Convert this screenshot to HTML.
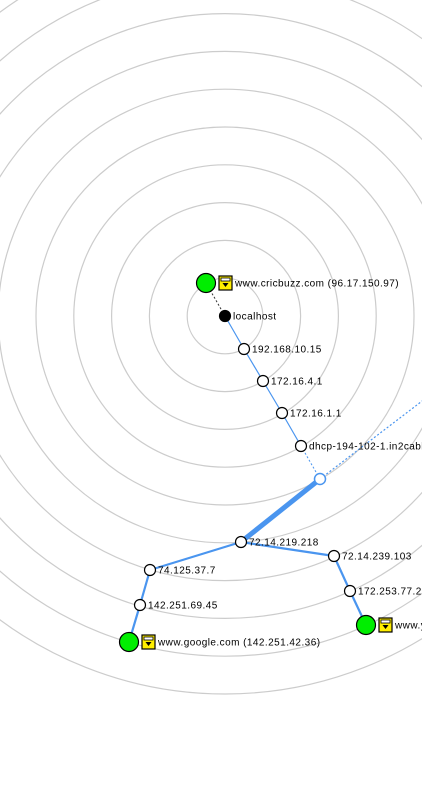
<!DOCTYPE html>
<html><head><meta charset="utf-8"><style>
html,body{margin:0;padding:0;background:#fff;overflow:hidden}
svg{display:block;font-family:"Liberation Sans",sans-serif}
</style></head><body>
<svg id="chart" width="422" height="791" viewBox="0 0 422 791">
<g id="rings"></g><g id="links"></g><g id="nodes"></g>
</svg>
<script>
const ringCount = 10;
const ringStep = 37.8;
const nodeNames = ["localhost","192.168.10.15","172.16.4.1","172.16.1.1","dhcp-194-102-1.in2cabl","hub","72.14.219.218","74.125.37.7","142.251.69.45","www.google.com (142.251.42.36)","72.14.239.103","172.253.77.2","www.youtube.com","www.cricbuzz.com (96.17.150.97)"];
const nodeX = [225,244,263,282,301,320,241,150,140,129,334,350,366,206];
const nodeY = [316,349,381,413,446,479,542,570,605,642,556,591,625,283];
const nodeKind = ["local","hop","hop","hop","hop","hub","hop","hop","hop","dest","hop","hop","dest","dest"];
const linkFrom = [0,1,2,3,4,5,6,7,8,6,10,11,0];
const linkTo   = [1,2,3,4,5,6,7,8,9,10,11,12,13];
const linkWidth= [1.2,1.2,1.2,1.2,1,5,2.2,2.2,2.2,2.2,2.2,2.2,1];
const linkStyle= ["solid","solid","solid","solid","dot","solid","solid","solid","solid","solid","solid","solid","dotblack"];
const ns="http://www.w3.org/2000/svg";
const cx=nodeX[0], cy=nodeY[0];
function mk(t,a,p){const e=document.createElementNS(ns,t);for(const k in a)e.setAttribute(k,a[k]);p.appendChild(e);return e;}
const R=document.getElementById('rings'),L=document.getElementById('links'),N=document.getElementById('nodes');
for(let i=1;i<=ringCount;i++){
  const c=mk('circle',{cx:cx,cy:cy,r:i*ringStep,fill:'none',stroke:'#cccccc','stroke-width':1.2},R);
  
  
}
const off=mk('line',{x1:nodeX[5],y1:nodeY[5],x2:430,y2:395,stroke:'#4a95ef','stroke-width':1.2,'stroke-dasharray':'2,2'},L);


for(let i=0;i<linkFrom.length;i++){
  const a=linkFrom[i],b=linkTo[i];
  const s=linkStyle[i];
  const attrs={x1:nodeX[a],y1:nodeY[a],x2:nodeX[b],y2:nodeY[b],stroke:s==='dotblack'?'#333':'#4a95ef','stroke-width':linkWidth[i]};
  if(s!=='solid')attrs['stroke-dasharray']='2,2';
  const l=mk('line',attrs,L);
  
  
}
function lock(x,y){
  const g=mk('g',{},N);
  
  
  mk('rect',{x:x,y:y-7,width:13,height:14,fill:'#ffee00',stroke:'#000','stroke-width':1.2},g);
  mk('rect',{x:x+2,y:y-5,width:9,height:3,fill:'#fff',stroke:'#000','stroke-width':0.8},g);
  mk('path',{d:`M${x+3.5} ${y} h6 l-3 4 z`,fill:'#000'},g);
}
for(let i=0;i<nodeNames.length;i++){
  const k=nodeKind[i],x=nodeX[i],y=nodeY[i];
  let r=5.5,fill='#fff',stroke='#000',sw=1.2,tx=x+8;
  if(k==='local'){r=5.5;fill='#000';}
  if(k==='hub'){r=5.5;stroke='#4a95ef';sw=1.5;}
  if(k==='dest'){r=9.5;fill='#00ee00';}
  const c=mk('circle',{cx:x,cy:y,r:r,fill:fill,stroke:stroke,'stroke-width':sw},N);
  
  
  if(k==='hub')continue;
  if(k==='dest'){lock(x+13,y);tx=x+29;}
  const t=mk('text',{x:tx,y:y+3.5,'font-size':10,'letter-spacing':0.45,fill:'#000'},N);
  t.textContent=nodeNames[i];
  
  
}
</script>
</body></html>
